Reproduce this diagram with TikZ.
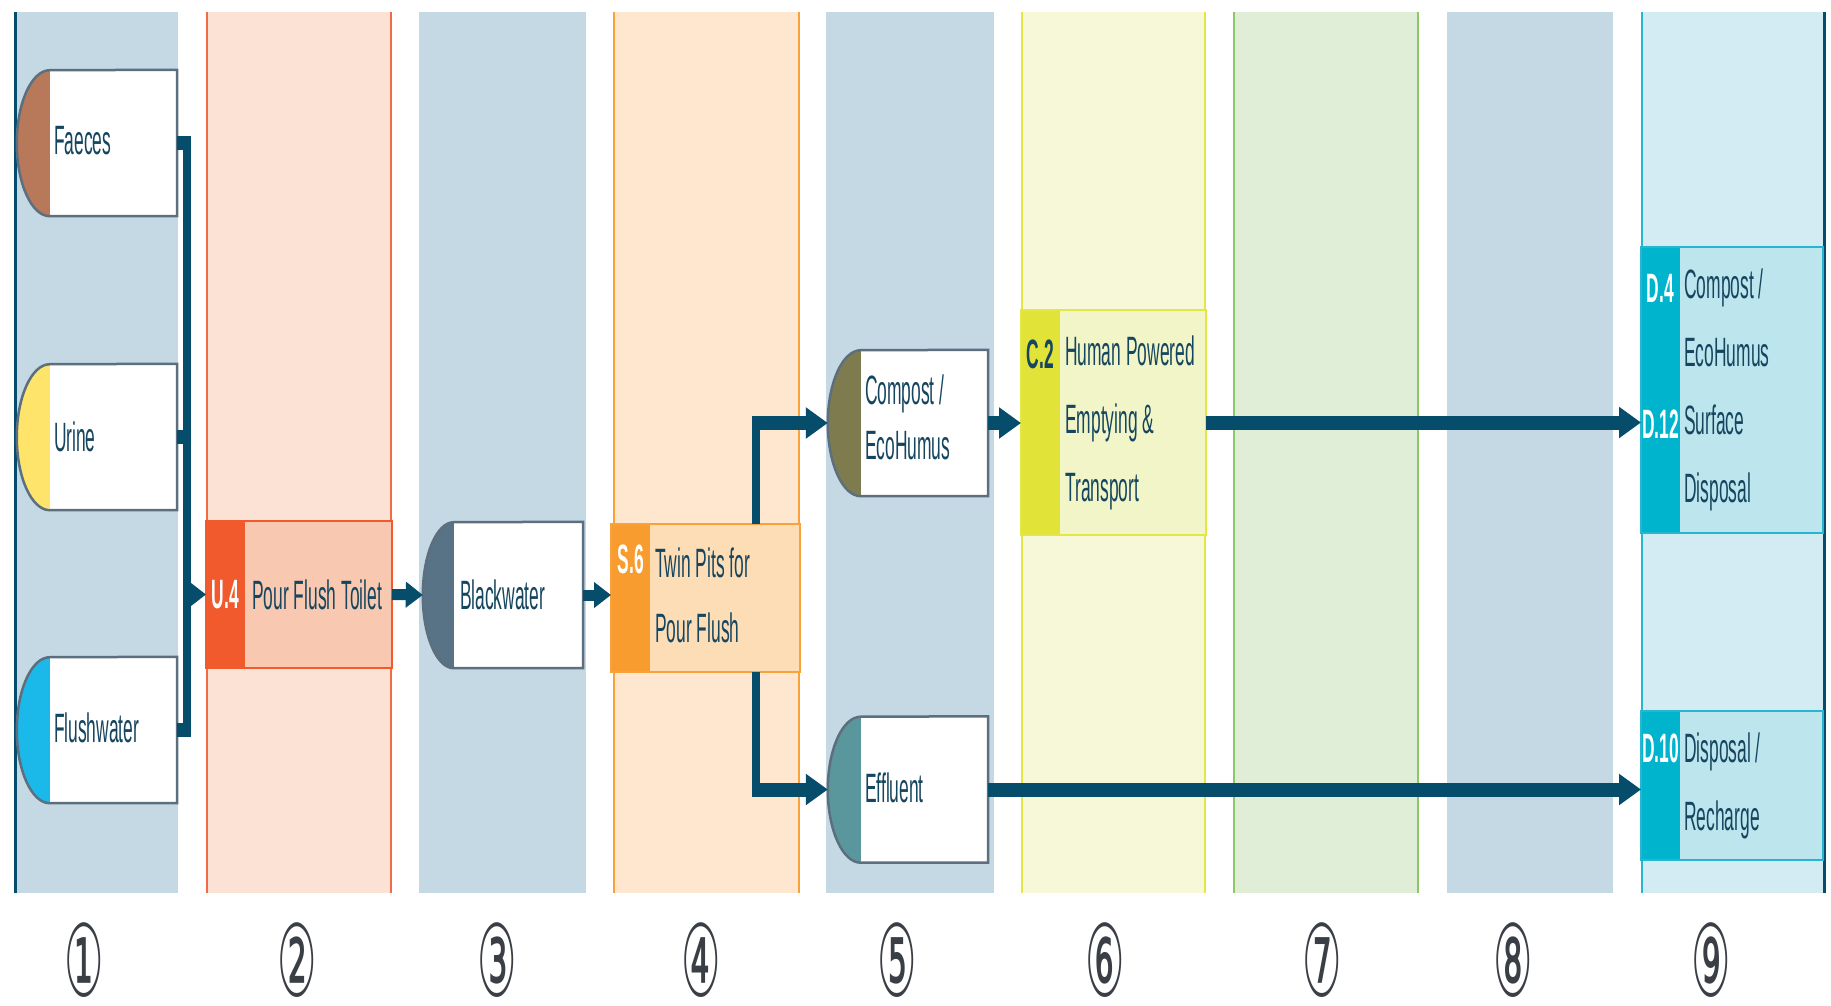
\documentclass[tikz,border=0pt]{standalone}
\usepackage{fontspec}
\setmainfont{Liberation Sans}[FakeStretch=0.425]
\newfontfamily\circfont{DejaVu Sans}[FakeStretch=0.44]
\usetikzlibrary{arrows.meta,calc}

% column backgrounds and borders
\definecolor{colblue}{HTML}{C4D9E4}
\definecolor{colorangebg}{HTML}{FBE2D5}
\definecolor{colorangeln}{HTML}{F26B47}
\definecolor{colpeachbg}{HTML}{FEE7CE}
\definecolor{colpeachln}{HTML}{F9A13A}
\definecolor{colyellowbg}{HTML}{F7F8D7}
\definecolor{colyellowln}{HTML}{E3E744}
\definecolor{colgreenbg}{HTML}{E0EED7}
\definecolor{colgreenln}{HTML}{8DC766}
\definecolor{colcyanbg}{HTML}{D3ECF3}
\definecolor{colcyanln}{HTML}{27B5D0}
% lines and text
\definecolor{linec}{HTML}{064C6B}
\definecolor{txtc}{HTML}{16465F}
\definecolor{outc}{HTML}{5D6F7E}
\definecolor{numc}{HTML}{3A3F45}
% technology boxes
\definecolor{ustrip}{HTML}{F15A2C}
\definecolor{ubg}{HTML}{F8C8B0}
\definecolor{sstrip}{HTML}{F89C30}
\definecolor{sbg}{HTML}{FDDDB6}
\definecolor{cstrip}{HTML}{E1E338}
\definecolor{cbg}{HTML}{F1F5C7}
\definecolor{dstrip}{HTML}{00B4CD}
\definecolor{dbg}{HTML}{BDE5EE}
% product caps
\definecolor{capfaeces}{HTML}{B7795A}
\definecolor{capurine}{HTML}{FEE46B}
\definecolor{capflush}{HTML}{1BB9EA}
\definecolor{capblack}{HTML}{587386}
\definecolor{capcompost}{HTML}{7E7B4F}
\definecolor{capeffluent}{HTML}{5A979C}

\tikzset{
  txt/.style={inner sep=0, text=txtc, font=\fontsize{41}{66}\selectfont, align=left},
  code/.style={inner sep=0, font=\bfseries\fontsize{41}{66}\selectfont},
  prod/.style={rectangle, minimum width=160, minimum height=146, inner sep=0},
  prodline/.style={draw=outc, line width=2.5},
  proc/.style={rectangle, inner sep=0, line width=2},
  hconn/.style={draw=linec, line width=14},
  vconn/.style={draw=linec, line width=8},
  bigtip/.style={-{Triangle[length=22pt,width=30pt]}},
  smalltip/.style={-{Triangle[length=17pt,width=25pt]}},
  num/.style={inner sep=0, text=numc, font=\circfont\fontsize{100}{100}\selectfont},
}

% product box: name, centre x, centre y, cap colour, cap width, label, label options
\newcommand\prodbox[7]{%
  \node[prod] (#1) at (#2,#3) {};
  \fill[white] ([xshift=#5]#1.north west) rectangle (#1.south east);
  \fill[#4] ([xshift=#5]#1.south west) arc[start angle=90,end angle=270,x radius=#5,y radius=73] -- cycle;
  \draw[prodline] ([xshift=#5]#1.south west) arc[start angle=90,end angle=270,x radius=#5,y radius=73]
    -- (#1.north east) -- (#1.south east) -- cycle;
  \node[txt, anchor=west, #7] at ([xshift=37]#1.west) {#6};
}

% technology box: name, centre x, centre y, width, height, strip colour, background, border colour
\newcommand\techbox[8]{%
  \node[proc, fill=#7, minimum width=#4, minimum height=#5] (#1) at (#2,#3) {};
  \fill[#6] (#1.north west) rectangle ([xshift=39]#1.south west);
  \draw[#8, line width=2] (#1.north west) rectangle (#1.south east);
}

\begin{document}
\begin{tikzpicture}[x=1pt,y=-1pt]
\useasboundingbox (0,0) rectangle (1831,1005);
\fill[white] (0,0) rectangle (1831,1005);

% ---- columns ----
\fill[colblue] (14,12) rectangle (178,893);
\fill[colorangebg] (207,12) rectangle (391,893);
\fill[colblue] (419,12) rectangle (586,893);
\fill[colpeachbg] (614,12) rectangle (799,893);
\fill[colblue] (826,12) rectangle (994,893);
\fill[colyellowbg] (1022,12) rectangle (1205,893);
\fill[colgreenbg] (1234,12) rectangle (1418,893);
\fill[colblue] (1447,12) rectangle (1613,893);
\fill[colcyanbg] (1642,12) rectangle (1825,893);

\draw[colorangeln, line width=1.5] (207,12) -- (207,893) (391,12) -- (391,893);
\draw[colpeachln, line width=1.5] (614,12) -- (614,893) (799,12) -- (799,893);
\draw[colyellowln, line width=1.5] (1022,12) -- (1022,893) (1205,12) -- (1205,893);
\draw[colgreenln, line width=1.5] (1234,12) -- (1234,893) (1418,12) -- (1418,893);
\draw[colcyanln, line width=1.5] (1642,12) -- (1642,893);
\draw[linec, line width=3] (15,12) -- (15,893);
\draw[linec, line width=3] (1824,12) -- (1824,893);

% ---- products ----
\prodbox{faeces}{97}{143}{capfaeces}{33}{Faeces}{yshift=2}
\prodbox{urine}{97}{437}{capurine}{33}{Urine}{}
\prodbox{flush}{97}{730}{capflush}{33}{Flushwater}{yshift=2}
\prodbox{black}{503}{595}{capblack}{31}{Blackwater}{}
\prodbox{compost}{908}{423}{capcompost}{33}{Compost /\\EcoHumus}{yshift=6, font=\fontsize{41}{55}\selectfont}
\prodbox{effluent}{908}{789.5}{capeffluent}{33}{Effluent}{yshift=2}

% ---- technologies ----
\techbox{u4}{299}{594.5}{184}{145}{ustrip}{ubg}{ustrip}
\node[code, text=white] at ([xshift=19.5]u4.west) {U.4};
\node[txt, anchor=west] at ([xshift=46]u4.west) {Pour Flush Toilet};

\techbox{s6}{705.5}{598}{187}{146}{sstrip}{sbg}{colpeachln}
\node[code, text=white] at ([xshift=20,yshift=39]s6.west) {S.6};
\node[txt, anchor=west, font=\fontsize{41}{65}\selectfont] at ([xshift=44,yshift=3]s6.west) {Twin Pits for\\Pour Flush};

\techbox{c2}{1113.5}{422.5}{183}{223}{cstrip}{cbg}{colyellowln}
\node[code, text=txtc] at ([xshift=19.5,yshift=68]c2.west) {C.2};
\node[txt, anchor=west, font=\fontsize{41}{68}\selectfont] at ([xshift=44]c2.west) {Human Powered\\Emptying \&\\Transport};

\techbox{dtop}{1732}{390}{180}{284}{dstrip}{dbg}{colcyanln}
\node[code, text=white] at ([xshift=19.5,yshift=102]dtop.west) {D.4};
\node[code, text=white] at ([xshift=19.5,yshift=-34]dtop.west) {D.12};
\node[txt, anchor=west, font=\fontsize{41}{68}\selectfont] at ([xshift=43]dtop.west) {Compost /\\EcoHumus\\Surface\\Disposal};

\techbox{d10}{1732}{785.5}{180}{147}{dstrip}{dbg}{colcyanln}
\node[code, text=white] at ([xshift=19.5,yshift=37]d10.west) {D.10};
\node[txt, anchor=west, font=\fontsize{41}{68}\selectfont] at ([xshift=43]d10.west) {Disposal /\\Recharge};

% ---- connectors ----
% collecting bracket from the three inputs
\draw[hconn] (faeces.east) -- ++(14,0);
\draw[hconn] (urine.east) -- ++(14,0);
\draw[hconn] (flush.east) -- ++(14,0);
\draw[vconn] ($(faeces.east)+(10,-7)$) -- ($(flush.east)+(10,7)$);
\draw[hconn, line width=11, smalltip] ($(flush.east |- u4.west)+(6,0)$) -- (u4.west);

\draw[hconn, line width=11, smalltip] (u4.east) -- (black.west);
\draw[hconn, line width=11, smalltip] (black.east) -- (black.east -| s6.west);

% split out of the twin pits
\coordinate (split) at ($(s6.north west)+(145,0)$);
\draw[vconn] (split) -- ($(split |- compost.west)+(0,-7)$);
\draw[hconn, bigtip] ($(split |- compost.west)+(-4,0)$) -- (compost.west);
\draw[vconn] (split |- s6.south) -- ($(split |- effluent.west)+(0,7)$);
\draw[hconn, bigtip] ($(split |- effluent.west)+(-4,0)$) -- (effluent.west);

\draw[hconn, bigtip] (compost.east) -- (compost.east -| c2.west);
\draw[hconn, bigtip] (c2.east) -- (c2.east -| dtop.west);
\draw[hconn, bigtip] (effluent.east) -- (effluent.east -| d10.west);

% ---- column numbers ----
\node[num] (n1) at (84,960) {①};
\node[num] (n2) at (297,960) {②};
\node[num] (n3) at (497,960) {③};
\node[num] (n4) at (701,960) {④};
\node[num] (n5) at (897,960) {⑤};
\node[num] (n6) at (1105,960) {⑥};
\node[num] (n7) at (1322,960) {⑦};
\node[num] (n8) at (1513,960) {⑧};
\node[num] (n9) at (1711,960) {⑨};
\end{tikzpicture}
\end{document}
